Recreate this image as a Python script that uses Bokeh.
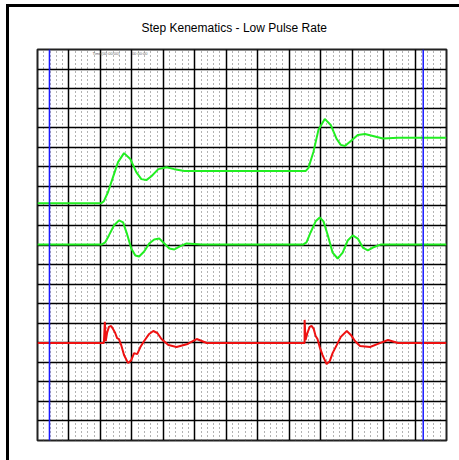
from bokeh.plotting import figure
from bokeh.models import FixedTicker, Label, Span
from bokeh.embed import file_html
from bokeh.resources import INLINE

# ---- data (time in grid divisions, amplitude in grid divisions) ----
pos_t = [0.0, 2.02, 2.11, 2.24, 2.40, 2.56, 2.75, 2.95, 3.14, 3.30, 3.46, 3.62, 3.84, 4.10, 4.35, 4.67, 5.22,
         8.52, 8.61, 8.77, 8.93, 9.13, 9.32, 9.51, 9.64, 9.77, 9.96, 10.18, 10.41, 10.66, 10.98, 11.46, 13.0]
pos_v = [12.13, 12.13, 12.24, 12.70, 13.47, 14.24, 14.70, 14.40, 13.73, 13.37, 13.32, 13.52, 13.88, 13.98, 13.88, 13.78, 13.78,
         13.78, 13.93, 14.76, 15.89, 16.45, 16.14, 15.42, 15.12, 15.06, 15.32, 15.63, 15.68, 15.58, 15.45, 15.48, 15.48]

vel_t = [0.0, 2.05, 2.15, 2.27, 2.43, 2.59, 2.72, 2.85, 2.98, 3.11, 3.23, 3.39, 3.55, 3.71, 3.87, 4.03, 4.19, 4.35, 4.51, 4.74, 5.22,
         8.45, 8.55, 8.68, 8.84, 8.97, 9.09, 9.22, 9.38, 9.54, 9.70, 9.86, 10.02, 10.18, 10.34, 10.50, 10.66, 10.92, 13.0]
vel_v = [10.03, 10.03, 10.13, 10.49, 11.00, 11.26, 11.16, 10.54, 9.82, 9.46, 9.41, 9.67, 10.08, 10.28, 10.33, 10.08, 9.82, 9.77, 9.92, 10.08, 10.03,
         10.03, 10.13, 10.64, 11.21, 11.41, 11.21, 10.54, 9.61, 9.31, 9.61, 10.23, 10.49, 10.33, 9.87, 9.72, 9.87, 10.03, 10.03]

acc_t = [0.0, 2.11, 2.14, 2.17, 2.21, 2.27, 2.34, 2.40, 2.47, 2.53, 2.59, 2.66, 2.75, 2.88, 2.98, 3.07, 3.17, 3.27, 3.39, 3.55, 3.68, 3.81, 3.94, 4.16, 4.42, 4.77, 5.06, 5.38,
         8.49, 8.49, 8.52, 8.58, 8.65, 8.71, 8.78, 8.84, 8.90, 8.97, 9.06, 9.19, 9.29, 9.38, 9.51, 9.64, 9.83, 9.96, 10.09, 10.25, 10.57, 10.82, 11.14, 11.46, 13.0]
acc_v = [4.99, 4.99, 6.07, 5.09, 5.50, 5.81, 5.86, 5.71, 5.50, 5.24, 5.19, 4.88, 4.37, 3.96, 4.11, 4.47, 4.42, 4.78, 5.09, 5.45, 5.60, 5.50, 5.19, 4.88, 4.78, 4.94, 5.19, 4.99,
         4.99, 6.17, 5.14, 5.50, 5.81, 5.86, 5.71, 5.35, 5.19, 4.78, 4.37, 3.91, 4.06, 4.47, 4.88, 5.30, 5.60, 5.40, 5.09, 4.83, 4.78, 4.94, 5.14, 4.99, 4.99]

marker_t = [0.38, 12.26]
title_text = "Step Kenematics - Low Pulse Rate"
header_texts = ["Time(00:00:00)", "00:00:00"]

X_DIV, Y_DIV = 13, 20

p = figure(width=453, height=456, output_backend="svg", toolbar_location=None,
           x_range=(0, X_DIV), y_range=(0, Y_DIV),
           min_border_left=28, min_border_right=16, min_border_top=41, min_border_bottom=23)
p.title.text = title_text
p.title.align = "left"
p.title.vertical_align = "top"
p.title.text_font = "Liberation Sans"
p.title.text_font_size = "12px"
p.title.text_font_style = "normal"
p.title.text_color = "black"
p.title.standoff = 26
p.title.offset = 104
p.xaxis.visible = False
p.yaxis.visible = False
p.outline_line_color = "#222222"
p.outline_line_width = 2
p.background_fill_color = "white"
p.border_fill_color = "white"
p.styles = {"border-top": "3px solid black", "border-left": "3px solid black",
            "margin-left": "6px", "margin-top": "4px"}

p.xgrid.ticker = FixedTicker(ticks=list(range(X_DIV + 1)),
                             minor_ticks=[i / 5 for i in range(X_DIV * 5 + 1)])
p.ygrid.ticker = FixedTicker(ticks=list(range(Y_DIV + 1)), minor_ticks=[])
p.xgrid.grid_line_color = "black"
p.xgrid.grid_line_width = 1.5
p.xgrid.grid_line_alpha = 1
p.ygrid.grid_line_color = "black"
p.ygrid.grid_line_width = 1.5
p.ygrid.grid_line_alpha = 1
p.xgrid.minor_grid_line_color = "#666666"
p.xgrid.minor_grid_line_dash = "1 3"
p.xgrid.minor_grid_line_width = 1

for t in marker_t:
    p.add_layout(Span(location=t, dimension="height", line_color="#1a1aff", line_width=1.5))

p.line(pos_t, pos_v, line_color="#22ee22", line_width=2)
p.line(vel_t, vel_v, line_color="#22ee22", line_width=2)
p.line(acc_t, acc_v, line_color="#ee1111", line_width=2)

p.add_layout(Label(x=1.75, y=19.8, text=header_texts[0], text_align="left", text_baseline="middle",
                   text_font="Liberation Sans", text_font_size="4px", text_color="#666666"))
p.add_layout(Label(x=3.0, y=19.8, text=header_texts[1], text_align="left", text_baseline="middle",
                   text_font="Liberation Sans", text_font_size="4px", text_color="#666666"))

open("out.html", "w").write(file_html(p, INLINE))
